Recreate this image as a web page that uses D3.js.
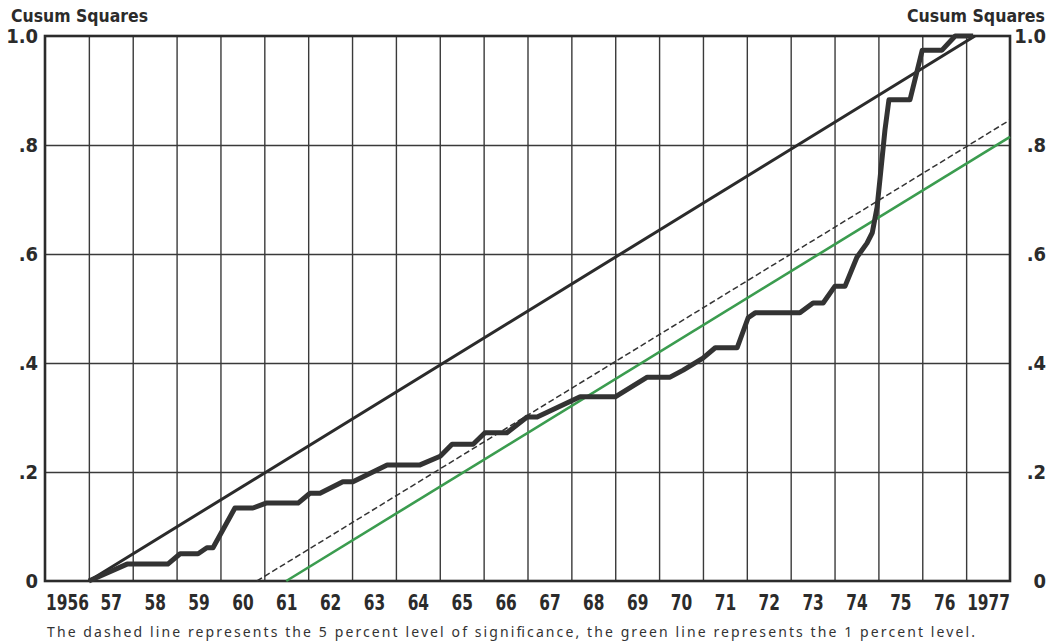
<!DOCTYPE html>
<html>
<head>
<meta charset="utf-8">
<script src="https://cdn.jsdelivr.net/npm/d3@7"></script>
<style>
  html, body { margin: 0; padding: 0; background: #fff; }
  svg { display: block; }
  .lbl { font-family: "DejaVu Sans Condensed", "DejaVu Sans", sans-serif;
         font-stretch: condensed; font-weight: bold; fill: #2b2b2b; }
  .cap { font-family: "Noto Sans", "DejaVu Sans", sans-serif; fill: #333; }
</style>
</head>
<body>
<svg id="chart" width="1054" height="644"></svg>
<script>
// column labels, one per year
const yearTicks = [1956, 1957, 1958, 1959, 1960, 1961, 1962, 1963, 1964, 1965, 1966,
  1967, 1968, 1969, 1970, 1971, 1972, 1973, 1974, 1975, 1976, 1977];
const yearLabels = ["1956", "57", "58", "59", "60", "61", "62", "63", "64", "65", "66",
  "67", "68", "69", "70", "71", "72", "73", "74", "75", "76", "1977"];
const yTicks = [0, 0.2, 0.4, 0.6, 0.8, 1.0];
const yTickLabels = ["0", ".2", ".4", ".6", ".8", "1.0"];

// cumulative sum of squares
const cusumYears = [1957.0, 1957.87, 1958.8, 1959.08, 1959.49, 1959.69, 1959.83, 1960.33,
  1960.74, 1961.04, 1961.77, 1962.04, 1962.27, 1962.79, 1963.02, 1963.8, 1964.55, 1965.01,
  1965.28, 1965.76, 1966.03, 1966.53, 1966.99, 1967.22, 1968.2, 1969.0, 1969.73, 1970.25,
  1970.55, 1971.0, 1971.28, 1971.78, 1972.03, 1972.19, 1973.21, 1973.51, 1973.74, 1974.01,
  1974.24, 1974.51, 1974.74, 1974.86, 1974.97, 1975.04, 1975.15, 1975.24, 1975.72, 1976.0,
  1976.45, 1976.75, 1977.16];
const cusumValues = [0, 0.031, 0.031, 0.05, 0.05, 0.061, 0.061, 0.134,
  0.134, 0.143, 0.143, 0.161, 0.161, 0.182, 0.182, 0.213, 0.213, 0.229,
  0.251, 0.251, 0.272, 0.272, 0.301, 0.301, 0.338, 0.338, 0.374, 0.374,
  0.387, 0.409, 0.428, 0.428, 0.483, 0.492, 0.492, 0.51, 0.51, 0.541,
  0.541, 0.594, 0.62, 0.639, 0.686, 0.741, 0.828, 0.883, 0.883, 0.974,
  0.974, 1.0, 1.0];

// expected path and significance bounds
const expectedYears = [1957.0, 1977.2];
const expectedValues = [0, 1.0];
const fivePctYears = [1960.83, 1978.0];
const fivePctValues = [0, 0.846];
const onePctYears = [1961.5, 1978.0];
const onePctValues = [0, 0.815];

const svg = d3.select("#chart");
const plotLeft = 45, plotRight = 1010, plotTop = 36, plotBottom = 581;

const x = d3.scaleLinear().domain([1956, 1978]).range([plotLeft, plotRight]);
const y = d3.scaleLinear().domain([0, 1]).range([plotBottom, plotTop]);

// vertical grid
svg.append("g")
  .attr("transform", "translate(0," + plotBottom + ")")
  .call(d3.axisBottom(x).tickValues(yearTicks.slice(1)).tickSize(-(plotBottom - plotTop)).tickFormat(""))
  .call(g => g.select(".domain").remove())
  .call(g => g.selectAll("line").attr("stroke", "#3a3a3a").attr("stroke-width", 1.4));

// horizontal grid
svg.append("g")
  .attr("transform", "translate(" + plotLeft + ",0)")
  .call(d3.axisLeft(y).tickValues(yTicks.slice(1, -1)).tickSize(-(plotRight - plotLeft)).tickFormat(""))
  .call(g => g.select(".domain").remove())
  .call(g => g.selectAll("line").attr("stroke", "#3a3a3a").attr("stroke-width", 1.4));

// frame
svg.append("rect")
  .attr("x", plotLeft).attr("y", plotTop)
  .attr("width", plotRight - plotLeft).attr("height", plotBottom - plotTop)
  .attr("fill", "none").attr("stroke", "#2b2b2b").attr("stroke-width", 2.6);

function pts(xs, vs) {
  return xs.map((d, i) => [d, vs[i]]);
}
const line = d3.line().x(d => x(d[0])).y(d => y(d[1]));

svg.append("path")
  .datum(pts(onePctYears, onePctValues))
  .attr("d", line)
  .attr("fill", "none").attr("stroke", "#3b9c4f").attr("stroke-width", 2.6);

svg.append("path")
  .datum(pts(fivePctYears, fivePctValues))
  .attr("d", line)
  .attr("fill", "none").attr("stroke", "#333").attr("stroke-width", 1.5)
  .attr("stroke-dasharray", "6,3");

svg.append("path")
  .datum(pts(expectedYears, expectedValues))
  .attr("d", line)
  .attr("fill", "none").attr("stroke", "#2b2b2b").attr("stroke-width", 3);

svg.append("path")
  .datum(pts(cusumYears, cusumValues))
  .attr("d", line)
  .attr("fill", "none").attr("stroke", "#333").attr("stroke-width", 5)
  .attr("stroke-linejoin", "round");

// year labels, centred in each column, squeezed to the narrow print face
svg.append("g")
  .attr("transform", "translate(0," + (plotBottom + 10) + ")")
  .call(d3.axisBottom(x).tickValues(yearTicks.map(d => d + 0.5)).tickSize(0)
    .tickFormat((d, i) => yearLabels[i]))
  .call(g => g.select(".domain").remove())
  .call(g => g.selectAll("text")
    .attr("class", "lbl").attr("font-size", 22).attr("fill", null)
    .attr("textLength", (d, i) => yearLabels[i].length * 10.7)
    .attr("lengthAdjust", "spacingAndGlyphs"));

// value labels both sides
svg.append("g")
  .attr("transform", "translate(" + (plotLeft - 4) + ",0)")
  .call(d3.axisLeft(y).tickValues(yTicks).tickSize(0).tickFormat((d, i) => yTickLabels[i]))
  .call(g => g.select(".domain").remove())
  .call(g => g.selectAll("text").attr("class", "lbl").attr("font-size", 20).attr("fill", null));

svg.append("g")
  .attr("transform", "translate(" + (plotRight + 39) + ",0)")
  .call(d3.axisLeft(y).tickValues(yTicks).tickSize(0).tickFormat((d, i) => yTickLabels[i]))
  .call(g => g.select(".domain").remove())
  .call(g => g.selectAll("text").attr("class", "lbl").attr("font-size", 20).attr("fill", null));

// titles
svg.append("text").attr("class", "lbl")
  .attr("x", 11).attr("y", 22).attr("font-size", 17)
  .attr("textLength", 137).attr("lengthAdjust", "spacingAndGlyphs")
  .text("Cusum Squares");
svg.append("text").attr("class", "lbl")
  .attr("x", 1045).attr("y", 22).attr("font-size", 17).attr("text-anchor", "end")
  .attr("textLength", 138).attr("lengthAdjust", "spacingAndGlyphs")
  .text("Cusum Squares");

svg.append("text").attr("class", "cap")
  .attr("x", 47).attr("y", 637).attr("font-size", 14)
  .attr("textLength", 928).attr("lengthAdjust", "spacing")
  .text("The dashed line represents the 5 percent level of significance, the green line represents the 1 percent level.");
</script>
</body>
</html>
